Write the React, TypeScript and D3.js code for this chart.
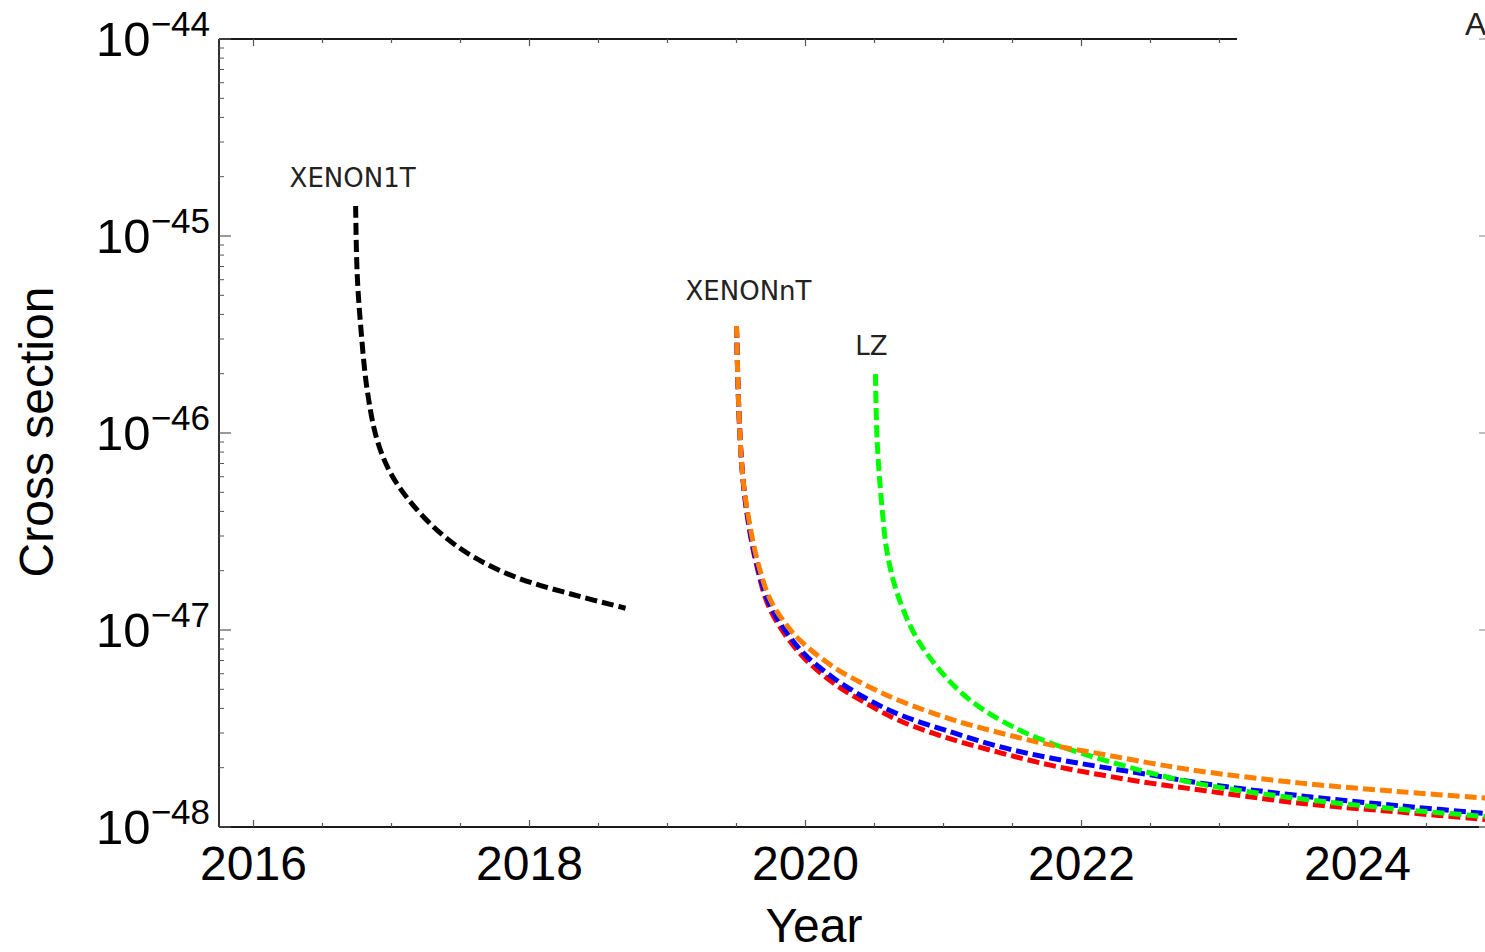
import React from "react";
import * as d3 from "d3";

// Projected exclusion sensitivity (spin-independent cross section) versus calendar year
const xenon1tYears = [2016.74, 2016.751, 2016.775, 2016.824, 2016.896, 2016.993, 2017.138, 2017.355, 2017.594, 2017.913, 2018.319, 2018.696];
const xenon1tSigma = [1.42e-45, 6.49e-46, 3.61e-46, 1.65e-46, 9.2e-47, 6.27e-47, 4.46e-47, 3.1e-47, 2.35e-47, 1.84e-47, 1.51e-47, 1.29e-47];

const xenonntOrangeYears = [2019.5, 2019.517, 2019.541, 2019.578, 2019.65, 2019.746, 2019.867, 2019.964, 2020.203, 2020.449, 2020.688, 2021.051, 2021.413, 2021.775, 2022.138, 2022.5, 2022.862, 2023.587, 2024.312, 2025.0];
const xenonntOrangeSigma = [3.49e-46, 1.31e-46, 6.49e-47, 4.07e-47, 2.27e-47, 1.42e-47, 1.05e-47, 8.8e-48, 6.49e-48, 5.2e-48, 4.36e-48, 3.53e-48, 3.0e-48, 2.61e-48, 2.35e-48, 2.11e-48, 1.92e-48, 1.67e-48, 1.51e-48, 1.39e-48];

const xenonntVariantYears = [2019.5, 2019.517, 2019.541, 2019.576, 2019.645, 2019.746, 2019.964, 2020.203, 2020.449, 2020.688, 2021.051, 2021.413, 2021.775, 2022.138, 2022.5, 2022.862, 2023.587, 2024.312, 2025.0];
const xenonntBlueSigma = [3.49e-46, 1.31e-46, 6.49e-47, 3.97e-47, 2.21e-47, 1.32e-47, 7.92e-48, 5.71e-48, 4.46e-48, 3.7e-48, 3.04e-48, 2.55e-48, 2.24e-48, 2.02e-48, 1.84e-48, 1.67e-48, 1.44e-48, 1.28e-48, 1.16e-48];
const xenonntRedSigma = [3.49e-46, 1.31e-46, 6.49e-47, 3.88e-47, 2.14e-47, 1.26e-47, 7.55e-48, 5.38e-48, 4.21e-48, 3.45e-48, 2.8e-48, 2.38e-48, 2.06e-48, 1.84e-48, 1.67e-48, 1.54e-48, 1.32e-48, 1.19e-48, 1.08e-48];

const lzYears = [2020.507, 2020.52, 2020.556, 2020.592, 2020.664, 2020.797, 2020.954, 2021.123, 2021.29, 2021.536, 2021.775, 2022.014, 2022.261, 2022.5, 2022.862, 2023.587, 2024.312, 2025.0];
const lzSigma = [1.99e-46, 8.9e-47, 4.07e-47, 2.46e-47, 1.54e-47, 9.32e-48, 6.49e-48, 4.85e-48, 3.93e-48, 3.14e-48, 2.67e-48, 2.35e-48, 2.09e-48, 1.88e-48, 1.65e-48, 1.39e-48, 1.23e-48, 1.12e-48];

const yearTicks = [2016, 2018, 2020, 2022, 2024];
const decadeExponents = [-44, -45, -46, -47, -48];

type Pt = { year: number; sigma: number };
const zip = (ys: number[], ss: number[]): Pt[] => ys.map((y, i) => ({ year: y, sigma: ss[i] }));

const series = [
  { key: "red", color: "#ff0000", pts: zip(xenonntVariantYears, xenonntRedSigma) },
  { key: "blue", color: "#0000ff", pts: zip(xenonntVariantYears, xenonntBlueSigma) },
  { key: "lz", color: "#00ff00", pts: zip(lzYears, lzSigma) },
  { key: "orange", color: "#ff8000", pts: zip(xenonntOrangeYears, xenonntOrangeSigma) },
  { key: "x1t", color: "#000000", pts: zip(xenon1tYears, xenon1tSigma) },
];

const annotations = [
  { text: "XENON1T", at: xenon1tYears[0], sigma: xenon1tSigma[0], dx: -3, dy: -19 },
  { text: "XENONnT", at: xenonntOrangeYears[0], sigma: xenonntOrangeSigma[0], dx: 12, dy: -26 },
  { text: "LZ", at: lzYears[0], sigma: lzSigma[0], dx: -4, dy: -19 },
];

const W = 1485;
const H = 952;
const left = 219;
const top = 39;
const bottom = 827;
const right = 1495.5;
const topFrameEnd = 1237;

const x = d3.scaleLinear().domain([2015.75, 2025]).range([left, right]);
const y = d3.scaleLog().domain([1e-48, 1e-44]).range([bottom, top]);

const line = d3
  .line<Pt>()
  .x((d) => x(d.year))
  .y((d) => y(d.sigma))
  .curve(d3.curveCatmullRom.alpha(0.5));

const AX = "#1a1a1a";
const TICK_FONT = "'Liberation Sans', Arial, Helvetica, sans-serif";
const LABEL_FONT = "'DejaVu Sans', Verdana, sans-serif";

export default function App() {
  const halfYears = d3.range(2016, 2025.01, 0.5);
  const minorLog: number[] = [];
  for (let e = -48; e < -44; e++) {
    for (let m = 2; m <= 9; m++) minorLog.push(m * Math.pow(10, e));
  }
  const decades = decadeExponents.map((e) => Math.pow(10, e));

  return (
    <div style={{ position: "absolute", left: 0, top: 0 }}>
      <svg width={W} height={H} style={{ display: "block", background: "#fff" }}>
        <defs>
          <clipPath id="plotArea">
            <rect x={left} y={top} width={right - left} height={bottom - top} />
          </clipPath>
        </defs>

        {/* frame */}
        <line x1={left} y1={top} x2={left} y2={bottom} stroke={AX} strokeWidth={1.8} />
        <line x1={left} y1={bottom} x2={W} y2={bottom} stroke={AX} strokeWidth={1.8} />
        <line x1={left} y1={top} x2={topFrameEnd} y2={top} stroke={AX} strokeWidth={1.8} />

        {/* x ticks (bottom and top) */}
        {halfYears.map((t) => {
          const major = yearTicks.includes(t);
          const len = major ? 7 : 4;
          const px = x(t);
          return (
            <g key={"xt" + t}>
              <line x1={px} x2={px} y1={bottom} y2={bottom - len} stroke="#555" strokeWidth={1.2} />
              {px < topFrameEnd && (
                <line x1={px} x2={px} y1={top} y2={top + len} stroke="#555" strokeWidth={1.2} />
              )}
            </g>
          );
        })}

        {/* y ticks */}
        {decades.map((v) => (
          <line key={"yd" + v} x1={left} x2={left + 12} y1={y(v)} y2={y(v)} stroke="#555" strokeWidth={1.2} />
        ))}
        {minorLog.map((v) => (
          <line key={"ym" + v} x1={left} x2={left + 5} y1={y(v)} y2={y(v)} stroke="#555" strokeWidth={1} />
        ))}
        {decades.map((v) => (
          <line key={"yr" + v} x1={W - 6} x2={W} y1={y(v)} y2={y(v)} stroke="#aaa" strokeWidth={1.5} />
        ))}

        {/* x tick labels */}
        {yearTicks.map((t) => (
          <text key={"xl" + t} x={x(t)} y={880} textAnchor="middle" fontFamily={TICK_FONT} fontSize={48} fill="#000">
            {t}
          </text>
        ))}

        {/* y tick labels */}
        {decadeExponents.map((e) => {
          const py = y(Math.pow(10, e));
          return (
            <text key={"yl" + e} x={210} y={py + 17} textAnchor="end" fontFamily={TICK_FONT} fill="#000">
              <tspan fontSize={49}>10</tspan>
              <tspan fontSize={35} dy={-20}>{"\u2212" + Math.abs(e)}</tspan>
            </text>
          );
        })}

        {/* axis titles */}
        <text x={814} y={942} textAnchor="middle" fontFamily={TICK_FONT} fontSize={48} fill="#000">
          Year
        </text>
        <text
          transform="translate(53, 432) rotate(-90)"
          textAnchor="middle"
          fontFamily={TICK_FONT}
          fontSize={48}
          fill="#000"
        >
          Cross section
        </text>
        <text x={1465} y={35} fontFamily={TICK_FONT} fontSize={32} fill="#222">
          A
        </text>

        {/* curves */}
        <g clipPath="url(#plotArea)">
          {series.map((s) => (
            <path
              key={s.key}
              d={line(s.pts) || ""}
              fill="none"
              stroke={s.color}
              strokeWidth={5}
              strokeDasharray="12 5"
            />
          ))}
        </g>

        {/* curve labels */}
        {annotations.map((a) => (
          <text
            key={a.text}
            x={x(a.at) + a.dx}
            y={y(a.sigma) + a.dy}
            textAnchor="middle"
            fontFamily={LABEL_FONT}
            fontSize={26}
            fill="#222"
          >
            {a.text}
          </text>
        ))}
      </svg>
    </div>
  );
}
